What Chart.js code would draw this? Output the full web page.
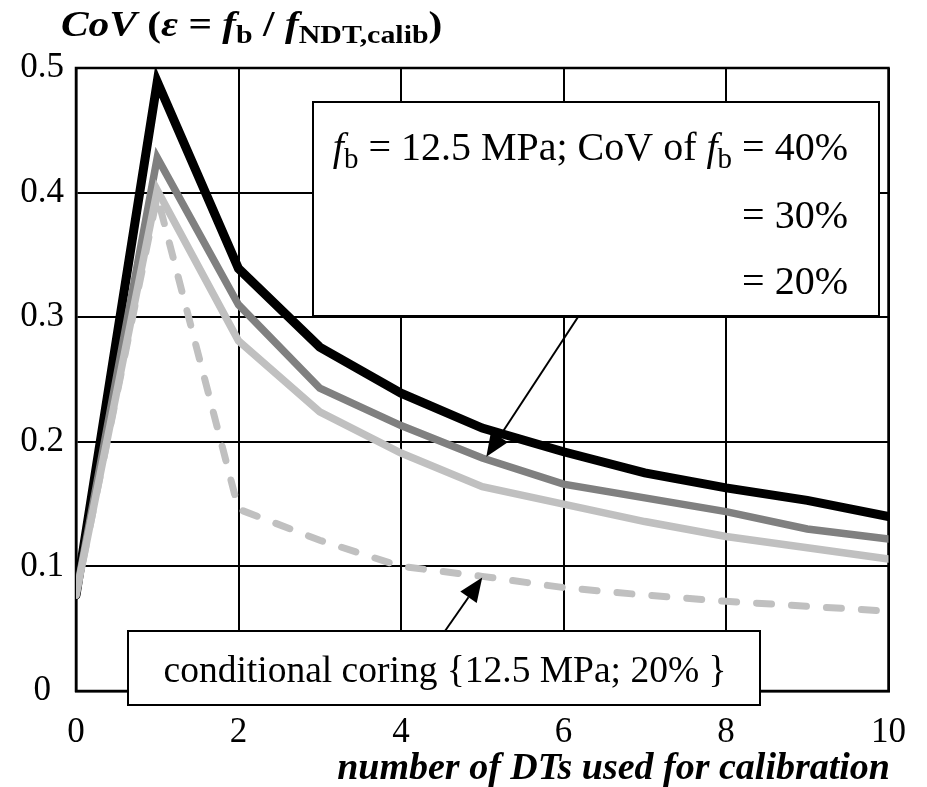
<!DOCTYPE html>
<html><head><meta charset="utf-8">
<script src="https://cdn.jsdelivr.net/npm/chart.js@4.4.1/dist/chart.umd.min.js"></script>
<style>html,body{margin:0;padding:0;background:#fff;overflow:hidden}canvas{display:block}</style>
</head><body>
<canvas id="c" width="927" height="787"></canvas>
<script>
// ---- data ----
const xValues = [0, 1, 2, 3, 4, 5, 6, 7, 8, 9, 10];
const cov40 = [0.077, 0.489, 0.339, 0.276, 0.239, 0.211, 0.192, 0.175, 0.163, 0.153, 0.140];
const cov30 = [0.077, 0.428, 0.310, 0.243, 0.213, 0.187, 0.166, 0.155, 0.144, 0.130, 0.122];
const cov20 = [0.077, 0.402, 0.281, 0.224, 0.191, 0.164, 0.150, 0.136, 0.124, 0.115, 0.106];
const conditional20 = [0.077, 0.397, 0.146, 0.121, 0.100, 0.092, 0.083, 0.077, 0.072, 0.068, 0.064];
const xTickLabels = ['0', '2', '4', '6', '8', '10'];
const yTickLabels = ['0', '0.1', '0.2', '0.3', '0.4', '0.5'];
const seriesNames = ['conditional coring 20%', 'CoV 20%', 'CoV 30%', 'CoV 40%'];

const SERIF = '"Liberation Serif", "Times New Roman", serif';
const toPts = arr => arr.map((v, i) => ({ x: xValues[i], y: v }));

function drawRuns(ctx, runs, x, y, align, sx) {
  sx = sx || 1;
  let total = 0;
  runs.forEach(r => { ctx.font = r.font; total += ctx.measureText(r.t).width; });
  total *= sx;
  let cx = align === 'right' ? x - total : (align === 'center' ? x - total / 2 : x);
  ctx.save();
  ctx.translate(cx, y);
  ctx.scale(sx, 1);
  ctx.textBaseline = 'alphabetic';
  ctx.textAlign = 'left';
  let px = 0;
  runs.forEach(r => {
    ctx.font = r.font;
    ctx.fillText(r.t, px, r.dy || 0);
    px += ctx.measureText(r.t).width;
  });
  ctx.restore();
}

function arrow(ctx, x1, y1, x2, y2) {
  const ang = Math.atan2(y2 - y1, x2 - x1);
  const L = 24, W = 10;
  const bx = x2 - L * Math.cos(ang), by = y2 - L * Math.sin(ang);
  ctx.beginPath();
  ctx.moveTo(x1, y1); ctx.lineTo(bx, by);
  ctx.lineWidth = 2; ctx.strokeStyle = '#000'; ctx.stroke();
  ctx.beginPath();
  ctx.moveTo(x2, y2);
  ctx.lineTo(bx + W * Math.sin(ang), by - W * Math.cos(ang));
  ctx.lineTo(bx - W * Math.sin(ang), by + W * Math.cos(ang));
  ctx.closePath(); ctx.fillStyle = '#000'; ctx.fill();
}

const decor = {
  id: 'decor',
  beforeDatasetsDraw(chart) {
    const { ctx, chartArea: a } = chart;
    ctx.save();
    ctx.strokeStyle = '#000'; ctx.lineWidth = 2.5;
    ctx.strokeRect(a.left, a.top, a.right - a.left, a.bottom - a.top);
    ctx.restore();
  },
  afterDatasetsDraw(chart) {
    const { ctx, scales } = chart;
    const xs = scales.x, ys = scales.y;
    ctx.save();
    ctx.fillStyle = '#000';
    // title
    const B = 'bold 36px ' + SERIF, BI = 'italic bold 36px ' + SERIF, Bs = 'bold 26px ' + SERIF;
    drawRuns(ctx, [
      { t: 'CoV', font: BI }, { t: ' (', font: B }, { t: 'ε', font: BI }, { t: ' = ', font: B },
      { t: 'f', font: BI }, { t: 'b', font: Bs, dy: 7 }, { t: ' / ', font: B },
      { t: 'f', font: BI }, { t: 'NDT,calib', font: Bs, dy: 7 }, { t: ')', font: B }
    ], 61, 36, 'left', 1.15);
    // x axis title
    ctx.font = 'italic bold 38px ' + SERIF;
    ctx.textAlign = 'right'; ctx.textBaseline = 'alphabetic';
    ctx.fillText('number of DTs used for calibration', 890, 779);

    // upper legend box
    const bx1 = 313, by1 = 102, bx2 = 879, by2 = 316;
    ctx.fillStyle = '#fff'; ctx.fillRect(bx1, by1, bx2 - bx1, by2 - by1);
    ctx.strokeStyle = '#000'; ctx.lineWidth = 2; ctx.strokeRect(bx1, by1, bx2 - bx1, by2 - by1);
    ctx.fillStyle = '#000';
    const R = '40px ' + SERIF, I = 'italic 40px ' + SERIF, S = '29px ' + SERIF;
    drawRuns(ctx, [
      { t: 'f', font: I }, { t: 'b', font: S, dy: 8 }, { t: ' = 12.5 MPa; CoV of ', font: R },
      { t: 'f', font: I }, { t: 'b', font: S, dy: 8 }, { t: ' = 40%', font: R }
    ], 848, 160, 'right');
    drawRuns(ctx, [{ t: '= 30%', font: R }], 848, 228, 'right');
    drawRuns(ctx, [{ t: '= 20%', font: R }], 848, 294, 'right');
    arrow(ctx, 578, 317, xs.getPixelForValue(5.05), ys.getPixelForValue(0.188));

    // lower box
    const lx1 = 128, ly1 = 631, lx2 = 760, ly2 = 705;
    ctx.fillStyle = '#fff'; ctx.fillRect(lx1, ly1, lx2 - lx1, ly2 - ly1);
    ctx.strokeStyle = '#000'; ctx.lineWidth = 2; ctx.strokeRect(lx1, ly1, lx2 - lx1, ly2 - ly1);
    ctx.fillStyle = '#000';
    drawRuns(ctx, [{ t: 'conditional coring {12.5 MPa; 20% }', font: '37.5px ' + SERIF }], 445, 682, 'center');
    arrow(ctx, 445, 631, xs.getPixelForValue(5.0), ys.getPixelForValue(0.091));
    ctx.restore();
  }
};

const common = { fill: false, pointRadius: 0, tension: 0, borderJoinStyle: 'miter', borderCapStyle: 'round' };

new Chart(document.getElementById('c'), {
  type: 'line',
  data: {
    datasets: [
      { ...common, label: seriesNames[0], data: toPts(conditional20), borderColor: '#c0c0c0', borderWidth: 7, borderDash: [15, 20] },
      { ...common, label: seriesNames[1], data: toPts(cov20), borderColor: '#c0c0c0', borderWidth: 7.5 },
      { ...common, label: seriesNames[2], data: toPts(cov30), borderColor: '#808080', borderWidth: 7.5 },
      { ...common, label: seriesNames[3], data: toPts(cov40), borderColor: '#000000', borderWidth: 9 }
    ]
  },
  options: {
    responsive: false, animation: false, devicePixelRatio: 1,
    layout: { padding: { left: 0, top: 68, right: 36, bottom: 0 } },
    plugins: { legend: { display: false }, tooltip: { enabled: false }, title: { display: false } },
    scales: {
      x: {
        type: 'linear', min: 0, max: 10,
        afterFit: s => { s.height = 96; },
        afterBuildTicks: s => { s.ticks = xTickLabels.map(v => ({ value: Number(v) })); },
        ticks: { stepSize: 2, padding: 21, color: '#000', font: { family: SERIF, size: 35 },
                 maxRotation: 0, autoSkip: false, callback: (v, i) => xTickLabels[i] },
        grid: { color: '#000', lineWidth: 2, drawTicks: false },
        border: { display: true, color: '#000', width: 2.5 }
      },
      y: {
        type: 'linear', min: 0, max: 0.5,
        afterFit: s => { s.width = 76; },
        afterBuildTicks: s => { s.ticks = yTickLabels.map(v => ({ value: Number(v) })); },
        ticks: { stepSize: 0.1, padding: 12, crossAlign: 'center', color: '#000',
                 font: { family: SERIF, size: 35 }, autoSkip: false, callback: (v, i) => yTickLabels[i] },
        grid: { color: '#000', lineWidth: 2, drawTicks: false },
        border: { display: true, color: '#000', width: 2.5 }
      }
    }
  },
  plugins: [decor]
});
</script>
</body></html>
